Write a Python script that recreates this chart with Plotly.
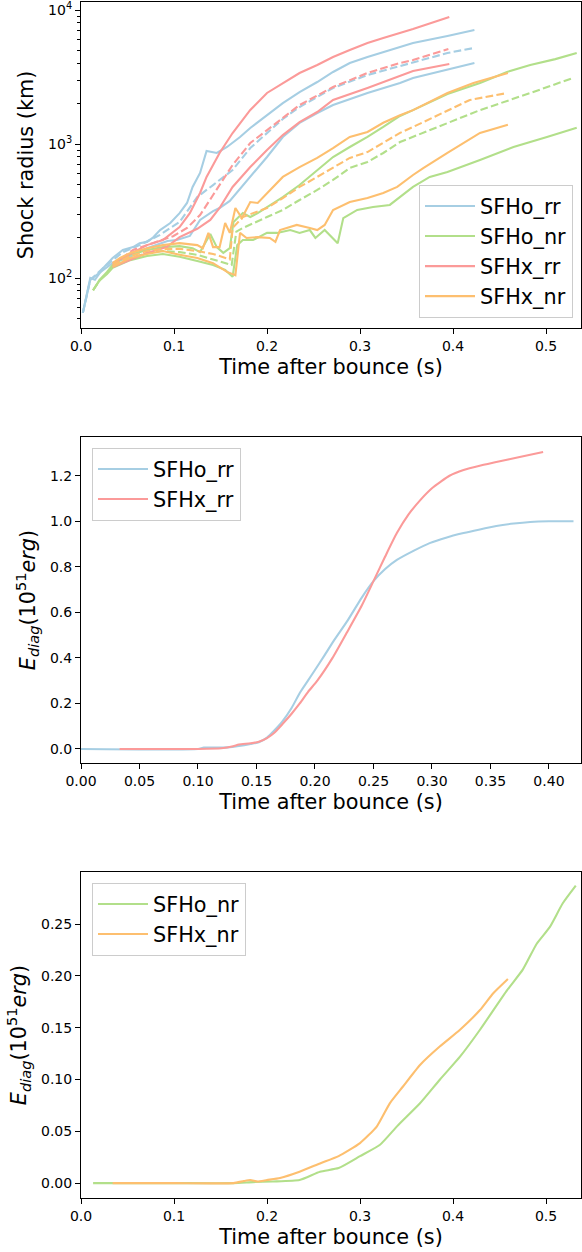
import plotly.graph_objects as go

# ---------------- Panel 1: shock radius (km) vs time after bounce (s) ----------------
# SFHo_rr
t_sfho_rr_max = [0.002,0.010,0.015,0.024,0.034,0.045,0.056,0.063,0.071,0.077,0.085,0.096,0.106,0.114,0.120,0.128,0.135,0.146,0.157,0.171,0.182,0.200,0.217,0.235,0.254,0.271,0.289,0.308,0.325,0.343,0.357,0.394,0.423]
r_sfho_rr_max = [55,100,97,119,141,162,170,182,186,199,228,257,305,363,478,608,887,857,950,1128,1316,1644,2021,2442,2901,3447,4021,4457,4860,5297,5675,6399,7097]
t_sfho_rr_avg = [0.002,0.010,0.024,0.045,0.063,0.085,0.106,0.125,0.142,0.163,0.182,0.200,0.217,0.235,0.271,0.308,0.343,0.357,0.394,0.422]
r_sfho_rr_avg = [55,97,119,156,176,210,262,402,494,640,933,1208,1538,1888,2618,3273,3819,4093,4776,5199]
t_sfho_rr_min = [0.002,0.010,0.024,0.034,0.053,0.071,0.093,0.103,0.117,0.128,0.142,0.149,0.160,0.182,0.200,0.217,0.235,0.254,0.271,0.308,0.343,0.357,0.394,0.423]
r_sfho_rr_min = [55,97,115,129,144,167,189,192,206,271,316,333,376,568,800,1128,1437,1702,1953,2403,2851,3110,3566,4021]

# SFHo_nr
t_sfho_nr_max = [0.013,0.020,0.028,0.034,0.042,0.053,0.071,0.088,0.106,0.120,0.128,0.139,0.146,0.153,0.160,0.164,0.174,0.182,0.190,0.200,0.217,0.235,0.254,0.271,0.289,0.308,0.325,0.343,0.357,0.394,0.429,0.458,0.483,0.510,0.533]
r_sfho_nr_max = [81,97,111,125,136,149,162,170,173,167,156,213,170,154,167,262,305,285,305,339,402,494,640,800,950,1130,1340,1620,1790,2360,2850,3450,3890,4300,4780]
t_sfho_nr_avg = [0.013,0.020,0.028,0.034,0.053,0.071,0.088,0.106,0.125,0.142,0.155,0.162,0.167,0.174,0.200,0.217,0.235,0.254,0.271,0.289,0.308,0.325,0.343,0.357,0.394,0.429,0.483,0.529]
r_sfho_nr_avg = [81,96,109,121,141,154,159,156,149,138,129,125,222,236,285,322,382,454,539,662,734,857,1035,1130,1440,1790,2400,3110]
t_sfho_nr_min = [0.013,0.020,0.028,0.034,0.053,0.071,0.088,0.106,0.125,0.142,0.155,0.163,0.168,0.174,0.185,0.200,0.211,0.225,0.235,0.246,0.252,0.262,0.276,0.282,0.297,0.314,0.332,0.343,0.357,0.375,0.394,0.429,0.465,0.501,0.533]
r_sfho_nr_min = [81,96,107,119,136,146,151,144,134,125,115,102,176,192,192,217,217,228,217,228,199,228,182,280,322,339,351,402,478,568,618,760,950,1130,1320]

# SFHx_rr
t_sfhx_rr_max = [0.034,0.056,0.071,0.088,0.106,0.117,0.128,0.135,0.149,0.163,0.182,0.200,0.217,0.235,0.254,0.271,0.289,0.308,0.325,0.343,0.357,0.396]
r_sfhx_rr_max = [129,156,176,192,240,305,431,568,857,1208,1795,2403,2851,3388,3890,4457,5023,5675,6180,6735,7215,8870]
t_sfhx_rr_avg = [0.034,0.056,0.077,0.099,0.114,0.128,0.142,0.163,0.182,0.200,0.217,0.235,0.271,0.308,0.343,0.357,0.395]
r_sfhx_rr_avg = [125,162,182,205,236,295,416,697,1017,1270,1589,1953,2662,3388,4021,4238,5117]
t_sfhx_rr_min = [0.034,0.071,0.092,0.106,0.125,0.139,0.149,0.163,0.182,0.200,0.217,0.235,0.254,0.271,0.308,0.343,0.357,0.396]
r_sfhx_rr_min = [121,154,170,202,233,271,333,478,673,902,1166,1458,1733,2129,2618,3213,3507,3953]

# SFHx_nr
t_sfhx_nr_max = [0.034,0.042,0.053,0.071,0.088,0.106,0.125,0.131,0.137,0.142,0.149,0.155,0.160,0.166,0.173,0.182,0.190,0.200,0.217,0.235,0.254,0.271,0.289,0.308,0.325,0.343,0.357,0.394,0.422,0.459]
r_sfhx_nr_max = [129,141,154,167,176,182,176,167,217,170,170,257,217,333,280,369,363,431,568,673,787,933,1130,1230,1440,1640,1790,2400,2850,3390]
t_sfhx_nr_avg = [0.034,0.053,0.071,0.088,0.106,0.125,0.142,0.155,0.160,0.163,0.174,0.185,0.200,0.217,0.235,0.254,0.271,0.289,0.308,0.325,0.343,0.357,0.394,0.418,0.458]
r_sfhx_nr_avg = [125,146,159,165,165,159,151,141,138,236,285,305,333,395,478,568,662,787,871,1020,1210,1340,1790,2130,2400]
t_sfhx_nr_min = [0.034,0.053,0.071,0.088,0.106,0.125,0.142,0.157,0.166,0.171,0.178,0.190,0.203,0.209,0.214,0.232,0.246,0.254,0.262,0.271,0.289,0.308,0.325,0.340,0.357,0.368,0.394,0.429,0.459]
r_sfhx_nr_min = [121,141,151,159,149,141,129,111,105,217,199,202,199,186,228,249,236,228,249,322,369,395,431,478,587,662,857,1210,1390]

# ---------------- Panel 2: diagnostic energy, rr models ----------------
t_e_sfho_rr = [0.0,0.10,0.105,0.115,0.125,0.135,0.145,0.152,0.159,0.165,0.172,0.180,0.187,0.194,0.200,0.208,0.216,0.228,0.240,0.250,0.260,0.270,0.285,0.298,0.312,0.327,0.34,0.355,0.37,0.384,0.40,0.421]
e_sfho_rr = [0,0,0.006,0.006,0.007,0.013,0.022,0.03,0.05,0.08,0.12,0.18,0.246,0.30,0.347,0.41,0.475,0.565,0.665,0.737,0.79,0.83,0.872,0.904,0.928,0.948,0.963,0.979,0.99,0.997,1.0,1.0]
t_e_sfhx_rr = [0.033,0.10,0.12,0.13,0.135,0.145,0.152,0.159,0.165,0.173,0.180,0.187,0.194,0.202,0.215,0.227,0.240,0.250,0.260,0.270,0.280,0.290,0.300,0.307,0.315,0.327,0.34,0.355,0.375,0.395]
e_sfhx_rr = [0,0,0.003,0.012,0.02,0.025,0.032,0.048,0.07,0.114,0.155,0.2,0.25,0.30,0.40,0.509,0.63,0.737,0.845,0.948,1.03,1.093,1.145,1.172,1.2,1.225,1.243,1.26,1.282,1.304]

# ---------------- Panel 3: diagnostic energy, nr models ----------------
t_e_sfho_nr = [0.013,0.10,0.164,0.185,0.206,0.235,0.257,0.277,0.300,0.3215,0.340,0.3645,0.386,0.4075,0.429,0.458,0.475,0.490,0.504,0.518,0.532]
e_sfho_nr = [0,0,0,0.001,0.0016,0.003,0.011,0.0145,0.026,0.037,0.055,0.077,0.100,0.122,0.148,0.186,0.206,0.231,0.247,0.27,0.287]
t_e_sfhx_nr = [0.034,0.10,0.164,0.175,0.182,0.19,0.2,0.214,0.235,0.257,0.277,0.300,0.318,0.332,0.346,0.3645,0.386,0.4075,0.429,0.443,0.459]
e_sfhx_nr = [0,0,0,0.002,0.003,0.0015,0.003,0.005,0.011,0.019,0.026,0.0386,0.0546,0.077,0.093,0.114,0.132,0.148,0.167,0.183,0.197]

models = ["SFHo_rr", "SFHo_nr", "SFHx_rr", "SFHx_nr"]
colors = {"SFHo_rr": "#a6cee3", "SFHo_nr": "#b2df8a", "SFHx_rr": "#fb9a99", "SFHx_nr": "#fdbf6f"}

radius = {
    "SFHo_rr": [(t_sfho_rr_max, r_sfho_rr_max), (t_sfho_rr_avg, r_sfho_rr_avg), (t_sfho_rr_min, r_sfho_rr_min)],
    "SFHo_nr": [(t_sfho_nr_max, r_sfho_nr_max), (t_sfho_nr_avg, r_sfho_nr_avg), (t_sfho_nr_min, r_sfho_nr_min)],
    "SFHx_rr": [(t_sfhx_rr_max, r_sfhx_rr_max), (t_sfhx_rr_avg, r_sfhx_rr_avg), (t_sfhx_rr_min, r_sfhx_rr_min)],
    "SFHx_nr": [(t_sfhx_nr_max, r_sfhx_nr_max), (t_sfhx_nr_avg, r_sfhx_nr_avg), (t_sfhx_nr_min, r_sfhx_nr_min)],
}

LW = 2.1
DASH = "7.7px,3.3px"
FONT = "DejaVu Sans"

fig = go.Figure()

for m in models:
    for k, (tt, rr) in enumerate(radius[m]):
        fig.add_trace(go.Scatter(
            x=tt, y=rr, mode="lines", name=m,
            line=dict(color=colors[m], width=LW, dash=DASH if k == 1 else "solid"),
            showlegend=(k == 0), legend="legend", legendgroup=m,
            xaxis="x", yaxis="y"))

for m, tt, ee in [("SFHo_rr", t_e_sfho_rr, e_sfho_rr), ("SFHx_rr", t_e_sfhx_rr, e_sfhx_rr)]:
    fig.add_trace(go.Scatter(x=tt, y=ee, mode="lines", name=m,
                             line=dict(color=colors[m], width=LW, shape="spline", smoothing=0.6),
                             legend="legend2", legendgroup=m + "2",
                             xaxis="x2", yaxis="y2"))

for m, tt, ee in [("SFHo_nr", t_e_sfho_nr, e_sfho_nr), ("SFHx_nr", t_e_sfhx_nr, e_sfhx_nr)]:
    fig.add_trace(go.Scatter(x=tt, y=ee, mode="lines", name=m,
                             line=dict(color=colors[m], width=LW, shape="spline", smoothing=0.5),
                             legend="legend3", legendgroup=m + "3",
                             xaxis="x3", yaxis="y3"))

W, H = 582, 1252
ML, MR, MT, MB = 81, 1, 2, 54
PH = H - MT - MB  # 1196


def ydom(top_px, bot_px):
    return [1 - (bot_px - MT) / PH, 1 - (top_px - MT) / PH]


axis_common = dict(showline=True, linecolor="black", linewidth=1.1, mirror=True,
                   ticks="outside", ticklen=5, tickwidth=1.1, tickcolor="black",
                   showgrid=False, zeroline=False,
                   tickfont=dict(family=FONT, size=14, color="black"))
title_font = dict(family=FONT, size=20.8, color="black")

xt1 = [0.0, 0.1, 0.2, 0.3, 0.4, 0.5]
xt2 = [0.0, 0.05, 0.10, 0.15, 0.20, 0.25, 0.30, 0.35, 0.40]
yt2 = [0.0, 0.2, 0.4, 0.6, 0.8, 1.0, 1.2]
yt3 = [0.0, 0.05, 0.10, 0.15, 0.20, 0.25]
ylog_major = [100, 1000, 10000]
ylog_major_text = ["10<sup>2</sup>", "10<sup>3</sup>", "10<sup>4</sup>"]
ylog_minor = [50, 60, 70, 80, 90, 200, 300, 400, 500, 600, 700, 800, 900,
              2000, 3000, 4000, 5000, 6000, 7000, 8000, 9000]

legend_common = dict(font=dict(family=FONT, size=20.8, color="black"),
                     bgcolor="rgba(255,255,255,0.8)", bordercolor="#cccccc", borderwidth=1,
                     tracegroupgap=0, itemwidth=50)

fig.update_layout(
    width=W, height=H,
    margin=dict(l=ML, r=MR, t=MT, b=MB),
    paper_bgcolor="white", plot_bgcolor="white",
    font=dict(family=FONT, color="black"),
    xaxis=dict(axis_common, domain=[0, 1], anchor="y", range=[0, 0.5376],
               tickvals=xt1, tickformat=".1f",
               title=dict(text="Time after bounce (s)", font=title_font, standoff=6)),
    yaxis=dict(axis_common, domain=ydom(2, 328), anchor="x", type="log",
               range=[1.6269, 4.0597], tickvals=ylog_major, ticktext=ylog_major_text,
               minor=dict(tickvals=ylog_minor, ticks="outside", ticklen=3, tickwidth=0.8,
                          tickcolor="black", showgrid=False),
               title=dict(text="Shock radius (km)", font=title_font, standoff=8)),
    xaxis2=dict(axis_common, domain=[0, 1], anchor="y2", range=[0, 0.4274],
                tickvals=xt2, tickformat=".2f",
                title=dict(text="Time after bounce (s)", font=title_font, standoff=6)),
    yaxis2=dict(axis_common, domain=ydom(437, 763), anchor="x2", range=[-0.0615, 1.37],
                tickvals=yt2, tickformat=".1f",
                title=dict(text="<i>E</i><sub><i>diag</i></sub>(10<sup>51</sup><i>erg</i>)",
                           font=title_font, standoff=8)),
    xaxis3=dict(axis_common, domain=[0, 1], anchor="y3", range=[0, 0.5376],
                tickvals=xt1, tickformat=".1f",
                title=dict(text="Time after bounce (s)", font=title_font, standoff=6)),
    yaxis3=dict(axis_common, domain=ydom(872, 1198), anchor="x3", range=[-0.01435, 0.3002],
                tickvals=yt3, tickformat=".2f",
                title=dict(text="<i>E</i><sub><i>diag</i></sub>(10<sup>51</sup><i>erg</i>)",
                           font=title_font, standoff=8)),
    legend=dict(legend_common, x=(573 - ML) / 500, y=1 - (318 - MT) / PH,
                xanchor="right", yanchor="bottom"),
    legend2=dict(legend_common, x=(92 - ML) / 500, y=1 - (448 - MT) / PH,
                 xanchor="left", yanchor="top"),
    legend3=dict(legend_common, x=(92 - ML) / 500, y=1 - (883 - MT) / PH,
                 xanchor="left", yanchor="top"),
)

fig.write_html("out.html")
